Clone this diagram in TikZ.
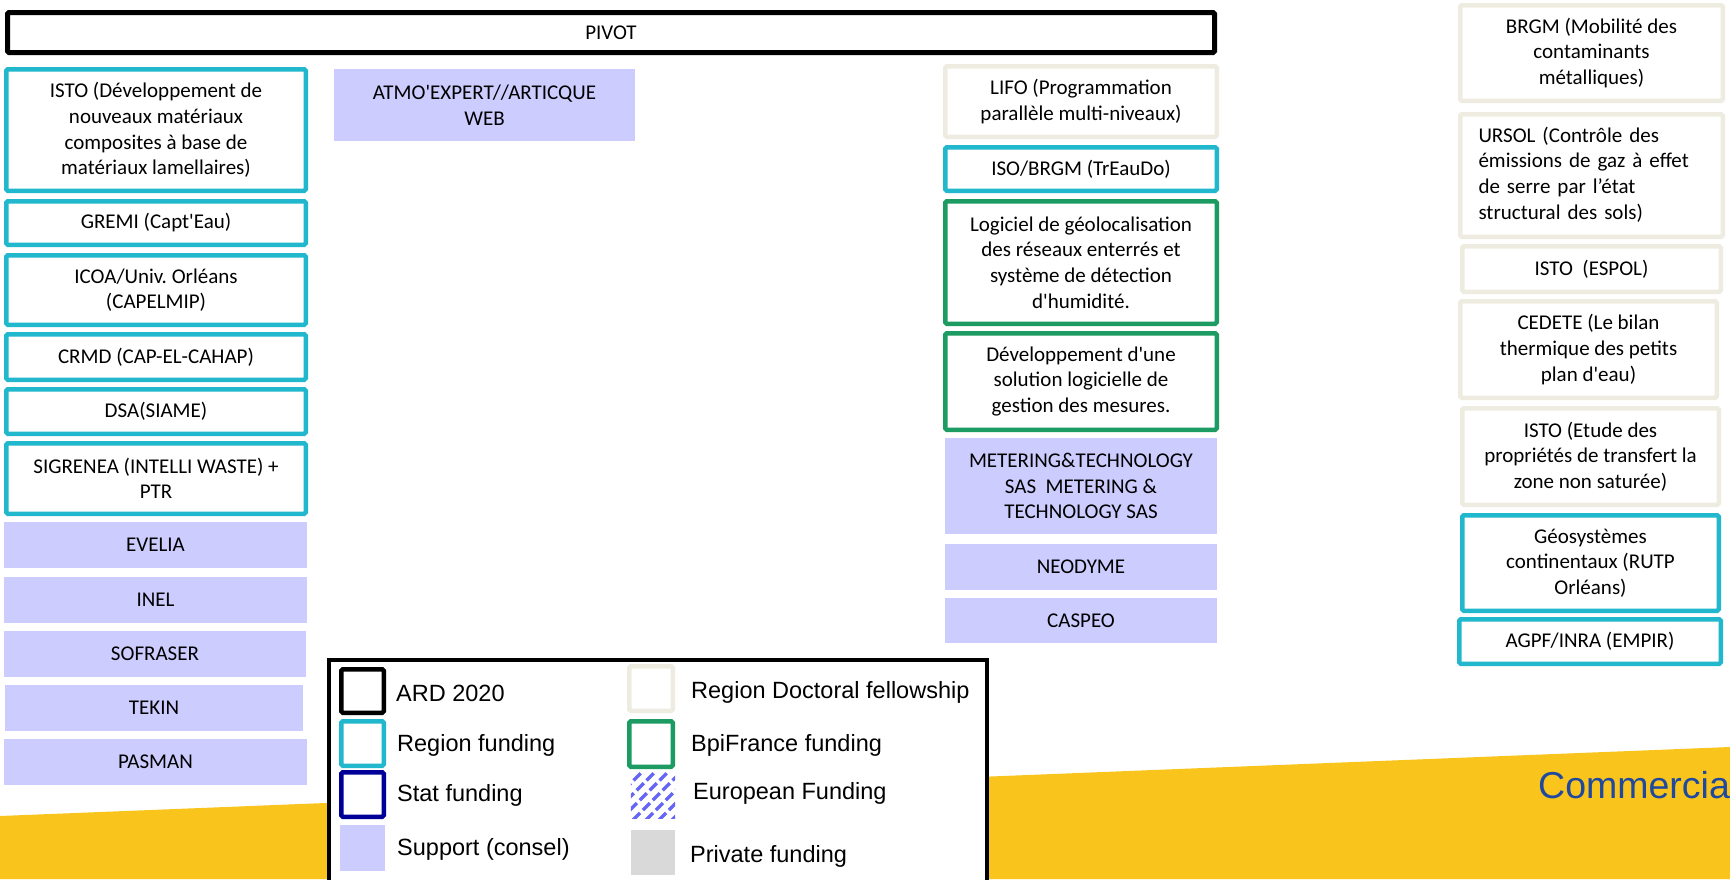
\documentclass[tikz,border=0pt]{standalone}
\usepackage{fontspec}
\setmainfont{Carlito}[Ligatures=TeXOff]
\newfontfamily\arialfont{Liberation Sans}[Ligatures=TeXOff]
\frenchspacing
\definecolor{lav}{RGB}{204,204,255}
\definecolor{regcyan}{RGB}{33,183,205}
\definecolor{beigec}{RGB}{238,236,225}
\definecolor{bpigreen}{RGB}{28,155,98}
\definecolor{navyc}{RGB}{0,0,153}
\definecolor{ybg}{RGB}{249,196,27}
\definecolor{commblue}{RGB}{31,73,160}
\definecolor{greyc}{RGB}{217,217,217}
\definecolor{hatchc}{RGB}{102,102,245}
\newcommand\boxfont{\fontsize{21}{25.6}\selectfont}
\newcommand\legfont{\arialfont\fontsize{23.5}{28}\selectfont}
\tikzset{
  box/.style={rectangle, rounded corners=1.5pt, inner sep=0pt, align=center, font=\boxfont, text=black},
  blackbox/.style={box, draw=black, line width=5pt, fill=white},
  cyanbox/.style={box, draw=regcyan, line width=4.5pt, fill=white},
  beigebox/.style={box, draw=beigec, line width=4.5pt, fill=white},
  greenbox/.style={box, draw=bpigreen, line width=4.5pt, fill=white},
  lavbox/.style={box, rounded corners=0pt, fill=lav},
  swatch/.style={rectangle, inner sep=0pt, rounded corners=1.5pt},
  leglabel/.style={anchor=base west, inner sep=0pt, font=\legfont, text=black}
}
\begin{document}
\begin{tikzpicture}[x=1pt,y=-1pt]
\useasboundingbox (0,0) rectangle (1730,879);
\clip (0,0) rectangle (1730,879);
\fill[white] (0,0) rectangle (1730,879);
% yellow band
\fill[ybg] (0,816) -- (1730,747) -- (1730,879) -- (0,879) -- cycle;
\node[anchor=base west, inner sep=0pt, font=\arialfont\fontsize{37.5}{40}\selectfont, text=commblue] (comm) at (1538,798) {Commercia};

% top bar
\node[blackbox, minimum width=1207, minimum height=40] (pivot) at (611,32.5) {PIVOT};

% left column
\node[cyanbox, minimum width=299.5, minimum height=121.5] (isto) at (156,130) {ISTO (Développement de\\nouveaux matériaux\\composites à base de\\matériaux lamellaires)};
\node[cyanbox, minimum width=299.5, minimum height=43.5] (gremi) at (156,223) {GREMI (Capt'Eau)};
\node[cyanbox, minimum width=299.5, minimum height=69.5] (icoa) at (156,290) {ICOA/Univ. Orléans\\(CAPELMIP)};
\node[cyanbox, minimum width=299.5, minimum height=45.5] (crmd) at (156,357) {CRMD (CAP-EL-CAHAP)};
\node[cyanbox, minimum width=299.5, minimum height=44.5] (dsa) at (156,411.5) {DSA(SIAME)};
\node[cyanbox, minimum width=299.5, minimum height=70.5] (sigrenea) at (156,478.5) {SIGRENEA (INTELLI WASTE) +\\PTR};
\node[lavbox, minimum width=303, minimum height=46] (evelia) at (155.5,545) {EVELIA};
\node[lavbox, minimum width=303, minimum height=46] (inel) at (155.5,600) {INEL};
\node[lavbox, minimum width=302, minimum height=46] (sofraser) at (155,654) {SOFRASER};
\node[lavbox, minimum width=298, minimum height=46] (tekin) at (154,708) {TEKIN};
\node[lavbox, minimum width=303, minimum height=46] (pasman) at (155.5,762) {PASMAN};

% second column
\node[lavbox, minimum width=301, minimum height=72] (atmo) at (484.5,105) {ATMO'EXPERT//ARTICQUE\\WEB};

% middle column
\node[beigebox, minimum width=271.5, minimum height=70.5] (lifo) at (1081,101.5) {LIFO (Programmation\\parallèle multi-niveaux)};
\node[cyanbox, minimum width=271.5, minimum height=43.5] (iso) at (1081,169) {ISO/BRGM (TrEauDo)};
\node[greenbox, minimum width=271.5, minimum height=122.5] (logiciel) at (1081,262.5) {Logiciel de géolocalisation\\des réseaux enterrés et\\système de détection\\d'humidité.};
\node[greenbox, minimum width=271.5, minimum height=96.5] (dev) at (1081,381.5) {Développement d'une\\solution logicielle de\\gestion des mesures.};
\node[lavbox, minimum width=272, minimum height=96] (metering) at (1081,486) {METERING\&TECHNOLOGY\\SAS\ \ METERING \&\\TECHNOLOGY SAS};
\node[lavbox, minimum width=272, minimum height=46] (neodyme) at (1081,567) {NEODYME};
\node[lavbox, minimum width=272, minimum height=45] (caspeo) at (1081,620.5) {CASPEO};

% right column
\node[beigebox, minimum width=262.5, minimum height=95.5] (brgm) at (1591.5,53) {BRGM (Mobilité des\\contaminants\\métalliques)};
\node[beigebox, minimum width=262.5, minimum height=122.5, text width=226, align=left] (ursol) at (1591.5,175.5) {\begin{tabular}{@{}l@{}}URSOL (Contrôle des\\émissions de gaz à effet\\de serre par l’état\\structural des sols)\end{tabular}};
\node[beigebox, minimum width=258.5, minimum height=45.5] (espol) at (1591.5,269) {ISTO\ \ (ESPOL)};
\node[beigebox, minimum width=256.5, minimum height=96.5] (cedete) at (1588.5,349.5) {CEDETE (Le bilan\\thermique des petits\\plan d'eau)};
\node[beigebox, minimum width=256.5, minimum height=96.5] (istoetude) at (1590.5,456.5) {ISTO (Etude des\\propriétés de transfert la\\zone non saturée)};
\node[cyanbox, minimum width=256.5, minimum height=95.5] (geo) at (1590.5,563) {Géosystèmes\\continentaux (RUTP\\Orléans)};
\node[cyanbox, minimum width=261.5, minimum height=44.5] (agpf) at (1590,641.5) {AGPF/INRA (EMPIR)};

% legend
\node[rectangle, draw=black, fill=white, line width=4pt, inner sep=0pt, minimum width=658, minimum height=250, anchor=north west] (legend) at (327,658) {};
\node[swatch, draw=black, line width=4.5pt, minimum width=42.5, minimum height=43.5] (sard) at (362.5,691) {};
\node[swatch, draw=regcyan, line width=4.5pt, minimum width=42.5, minimum height=44.5] (sreg) at (362.5,743.5) {};
\node[swatch, draw=navyc, line width=4.5pt, minimum width=42.5, minimum height=44.5] (sstat) at (362.5,794.5) {};
\node[swatch, fill=lav, rounded corners=0pt, minimum width=45, minimum height=46] (ssupp) at (362.5,848) {};
\node[swatch, draw=beigec, line width=4.5pt, minimum width=43.5, minimum height=44.5] (srdf) at (651,688.5) {};
\node[swatch, draw=bpigreen, line width=4.5pt, minimum width=43.5, minimum height=45.5] (sbpi) at (651,744) {};
\node[swatch, rounded corners=0pt, minimum width=44, minimum height=45] (seuro) at (653,795.5) {};
\begin{scope}
  \clip (seuro.south west) rectangle (seuro.north east);
  \foreach \i in {-4,...,4} {
    \draw[hatchc, line width=3.5pt, dash pattern=on 10pt off 4pt] (633+\i*13,820) -- ++(48,-48);
  }
\end{scope}
\node[swatch, fill=greyc, rounded corners=0pt, minimum width=44, minimum height=45] (spriv) at (653,852.5) {};

\node[leglabel] (lard) at (396,701.5) {ARD 2020};
\node[leglabel] (lreg) at (397,751) {Region funding};
\node[leglabel] (lstat) at (397,801.5) {Stat funding};
\node[leglabel] (lsupp) at (397,855.5) {Support (consel)};
\node[leglabel] (lrdf) at (691,698) {Region Doctoral fellowship};
\node[leglabel] (lbpi) at (691,751) {BpiFrance funding};
\node[leglabel] (leuro) at (693,799) {European Funding};
\node[leglabel] (lpriv) at (690,862.5) {Private funding};
\end{tikzpicture}
\end{document}
